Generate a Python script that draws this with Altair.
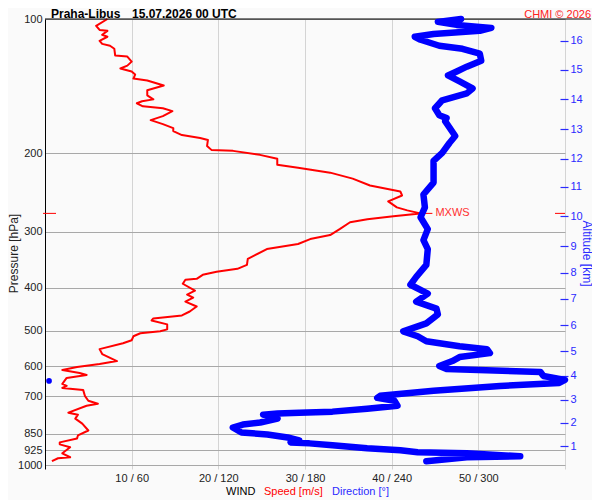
import altair as alt
import pandas as pd

# ---- wind speed profile (m/s) vs pressure (hPa) ----
speed_p = [100.0, 103.6, 105.8, 106.3, 108.5, 109.6, 111.9, 113.7, 114.8, 116.6,
           120.8, 121.4, 124.6, 127.2, 129.1, 131.1, 133.2, 136.0, 137.3, 140.9,
           144.5, 148.3, 151.4, 152.9, 154.5, 156.9, 158.5, 160.9, 165.1, 168.5,
           172.0, 175.6, 178.3, 182.0, 184.8, 186.7, 192.5, 196.5, 197.5, 201.6,
           205.8, 212.2, 215.4, 221.0, 227.9, 236.2, 243.6, 248.6, 256.4, 264.4,
           268.5, 272.7, 276.8, 281.1, 285.4, 295.8, 305.0, 311.4, 319.4, 327.8,
           345.0, 355.7, 363.1, 368.7, 374.4, 382.2, 384.1, 392.1, 406.4, 414.8,
           421.2, 429.9, 441.0, 452.5, 461.8, 469.0, 473.8, 483.6, 496.1, 501.2,
           506.3, 514.2, 524.8, 533.0, 549.5, 563.7, 584.3, 593.3, 602.6, 612.0,
           621.5, 627.9, 637.6, 657.5, 664.3, 671.2, 678.1, 699.2, 717.3, 728.4,
           735.9, 762.7, 770.6, 786.5, 806.8, 836.1, 857.8, 871.0, 889.1, 898.2,
           912.0, 940.5, 960.0, 964.9, 979.7]
speed_v = [7.2, 5.9, 6.3, 7.2, 6.6, 7.2, 6.3, 6.6, 7.5, 8.0,
           8.1, 9.5, 10.0, 9.5, 8.7, 10.0, 10.4, 10.2, 11.8, 13.7,
           11.8, 11.8, 12.5, 11.2, 10.6, 11.3, 13.6, 14.7, 13.6, 12.2,
           13.6, 14.8, 14.8, 15.8, 17.9, 18.8, 18.7, 19.2, 21.7, 24.8,
           26.8, 26.8, 29.2, 32.9, 35.5, 37.5, 41.0, 41.2, 39.6, 40.6,
           41.8, 43.3, 40.2, 37.2, 35.2, 34.0, 32.9, 30.6, 29.2, 25.6,
           23.4, 23.3, 22.2, 19.8, 18.2, 17.5, 16.2, 15.9, 17.3, 16.4,
           17.1, 16.2, 17.5, 16.7, 15.8, 12.5, 12.3, 14.1, 14.1, 13.3,
           11.0, 10.2, 10.0, 9.0, 6.3, 6.6, 8.3, 6.3, 3.7, 2.0,
           4.0, 4.8, 2.5, 2.0, 2.5, 2.0, 4.4, 4.6, 5.0, 6.1,
           4.8, 2.7, 3.8, 3.5, 4.3, 5.0, 3.8, 3.7, 1.7, 1.7,
           2.9, 2.0, 2.9, 1.5, 0.8]

# ---- wind direction profile (deg) vs pressure (hPa) ----
dir_p = [100.0, 101.5, 103.1, 104.7, 106.3, 108.0, 109.6, 111.3, 114.8, 116.6,
         119.6, 124.0, 127.9, 131.1, 133.8, 138.0, 143.1, 146.8, 152.1, 158.5,
         164.3, 166.8, 169.4, 182.9, 189.6, 199.5, 207.9, 232.6, 247.4, 264.4,
         278.2, 295.8, 313.0, 327.8, 355.7, 378.3, 394.1, 412.6, 429.9, 445.7,
         459.4, 481.1, 501.2, 514.2, 527.5, 541.2, 549.5, 560.9, 572.5, 584.3,
         599.5, 608.8, 618.2, 631.0, 644.0, 654.0, 664.3, 681.3, 699.2, 706.5,
         717.3, 735.9, 747.2, 758.6, 762.7, 766.3, 770.6, 786.5, 802.5, 810.8,
         823.4, 844.7, 853.4, 866.6, 880.0, 889.1, 893.6, 902.8, 916.8, 926.3,
         935.8, 940.5, 955.0, 960.0, 979.7]
dir_v = [288, 272, 285, 309, 301, 269, 256, 260, 273, 289,
         301, 302, 292, 285, 279, 287, 296, 292, 275, 270,
         273, 278, 277, 284, 280, 275, 269, 269, 262, 263,
         260, 265, 262, 265, 264, 257, 253, 265, 257, 271,
         272, 264, 248, 258, 264, 287, 306, 308, 287, 282,
         273, 278, 343, 345, 360, 356, 315, 269, 232, 230,
         242, 244, 223, 199, 176, 161, 151, 161, 149, 137,
         130, 136, 154, 168, 176, 170, 183, 199, 223, 246,
         258, 292, 329, 292, 264]

dot_p = [647.3]
dot_v = [2.8]

pressure_ticks = [100, 200, 300, 400, 500, 600, 700, 850, 925, 1000]
speed_ticks = [10, 20, 30, 40, 50, 60]
alt_km = list(range(1, 17))
alt_p = [907.4, 802.5, 713.3, 631.0, 555.2, 486.0, 423.3, 370.7, 322.8, 276.8,
         237.4, 205.8, 176.5, 151.4, 129.8, 111.9]

FONT = "Liberation Sans"
RED = "#ff0000"
BLUE = "#0000ff"
LBLUE = "#2a2aff"

ysc = alt.Scale(type="log", domain=[100, 1020], nice=False, reverse=True)
xs = alt.Scale(domain=[0, 60], nice=False, zero=False)
xd = alt.Scale(domain=[0, 360], nice=False, zero=False)

sp = pd.DataFrame({"i": range(len(speed_p)), "p": speed_p, "s": speed_v})
dr = pd.DataFrame({"i": range(len(dir_p)), "p": dir_p, "d": dir_v})
dot = pd.DataFrame({"p": dot_p, "d": dot_v})

imax = int(sp["s"].idxmax())
mx = pd.DataFrame({"p": [sp.loc[imax, "p"]], "s": [sp.loc[imax, "s"]],
                   "s2": [sp.loc[imax, "s"] + 1.4]})

alt_expr = "indexof([" + ",".join(str(v) for v in alt_p) + "], datum.value) + 1"

speed_line = alt.Chart(sp).mark_line(color=RED, strokeWidth=2, strokeJoin="round").encode(
    x=alt.X("s:Q", scale=xs, axis=alt.Axis(
        values=speed_ticks, grid=True, gridColor="#d4d4d4", gridWidth=1,
        ticks=False, domain=False, title=None,
        labelExpr="datum.value < 60 ? datum.value + ' / ' + datum.value * 6 : ''",
        labelFont=FONT, labelFontSize=11, labelColor="#222", labelPadding=3)),
    y=alt.Y("p:Q", scale=ysc, axis=alt.Axis(
        values=pressure_ticks, format="d", grid=True, gridColor="#a8a8a8", gridWidth=1,
        ticks=False, domain=True, domainColor="#000", domainWidth=1,
        labelFont=FONT, labelFontSize=11, labelColor="#222", labelPadding=3,
        labelOverlap=False,
        title="Pressure [hPa]", titleFont=FONT, titleFontSize=12, titleFontWeight="normal",
        titleColor="#222", titleX=-28, titleY=234, titleBaseline="alphabetic")),
    order="i:Q",
)

top_line = alt.Chart(pd.DataFrame({"p": [100]})).mark_rule(color="#000", strokeWidth=1).encode(
    x=alt.value(0), x2=alt.value(546), y=alt.Y("p:Q", scale=ysc, axis=None))

mx_rule = alt.Chart(mx).mark_rule(color=RED, strokeWidth=1).encode(
    x=alt.X("s:Q", scale=xs, axis=None), x2="s2:Q", y=alt.Y("p:Q", scale=ysc, axis=None))
mx_text = alt.Chart(mx).mark_text(color="#ff3030", font=FONT, fontSize=11, align="left",
                                  baseline="middle", dx=3).encode(
    x=alt.X("s2:Q", scale=xs, axis=None), y=alt.Y("p:Q", scale=ysc, axis=None),
    text=alt.value("MXWS"))
mx_left = alt.Chart(mx).mark_rule(color=RED, strokeWidth=1).encode(
    x=alt.value(-2), x2=alt.value(11), y=alt.Y("p:Q", scale=ysc, axis=None))
mx_right = alt.Chart(mx).mark_rule(color=RED, strokeWidth=1).encode(
    x=alt.value(510), x2=alt.value(520), y=alt.Y("p:Q", scale=ysc, axis=None))

dir_line = alt.Chart(dr).mark_line(color=BLUE, strokeWidth=6.5, strokeJoin="round",
                                   strokeCap="round").encode(
    x=alt.X("d:Q", scale=xd, axis=None),
    y=alt.Y("p:Q", scale=ysc, axis=None),
    order="i:Q",
)

dir_dot = alt.Chart(dot).mark_circle(color=BLUE, opacity=1, size=32).encode(
    x=alt.X("d:Q", scale=xd, axis=None),
    y=alt.Y("p:Q", scale=ysc, axis=alt.Axis(
        orient="right", values=alt_p, labelExpr=alt_expr, grid=False, domain=False,
        ticks=True, tickColor=LBLUE, tickSize=8, tickWidth=1.2, offset=-5,
        labelFont=FONT, labelFontSize=11, labelColor=LBLUE, labelPadding=2,
        labelOverlap=False,
        title="Altitude [km]", titleFont=FONT, titleFontSize=12, titleFontWeight="normal",
        titleColor=LBLUE, titleX=22, titleY=234, titleBaseline="alphabetic")),
)

def label(txt, x, y, color="#000", weight="normal", size=11, align="left"):
    return alt.Chart(pd.DataFrame({"t": [txt]})).mark_text(
        font=FONT, fontSize=size, fontWeight=weight, color=color, align=align,
        baseline="alphabetic").encode(x=alt.value(x), y=alt.value(y), text="t:N")

t1 = label("Praha-Libus", 6, -1, weight="bold", size=12)
t2 = label("15.07.2026 00 UTC", 87, -1, weight="bold", size=12)
t3 = label("CHMI © 2026", 546, -1, color="#ff2020", align="right")
b1 = label("WIND", 181, 476)
b2 = label("Speed [m/s]", 219, 476, color=RED)
b3 = label("Direction [°]", 287, 476, color=LBLUE)

chart = alt.layer(
    speed_line, top_line, mx_left, mx_right, mx_rule, mx_text, dir_line, dir_dot,
    t1, t2, t3, b1, b2, b3,
).resolve_scale(x="independent").resolve_axis(y="independent").properties(
    width=520, height=450, autosize="none",
    padding={"left": 37, "top": 11, "right": 27, "bottom": 31},
    background="#fafafa",
).configure_view(stroke=None)

chart.save("out.html", embed_options={"renderer": "svg", "actions": False})
